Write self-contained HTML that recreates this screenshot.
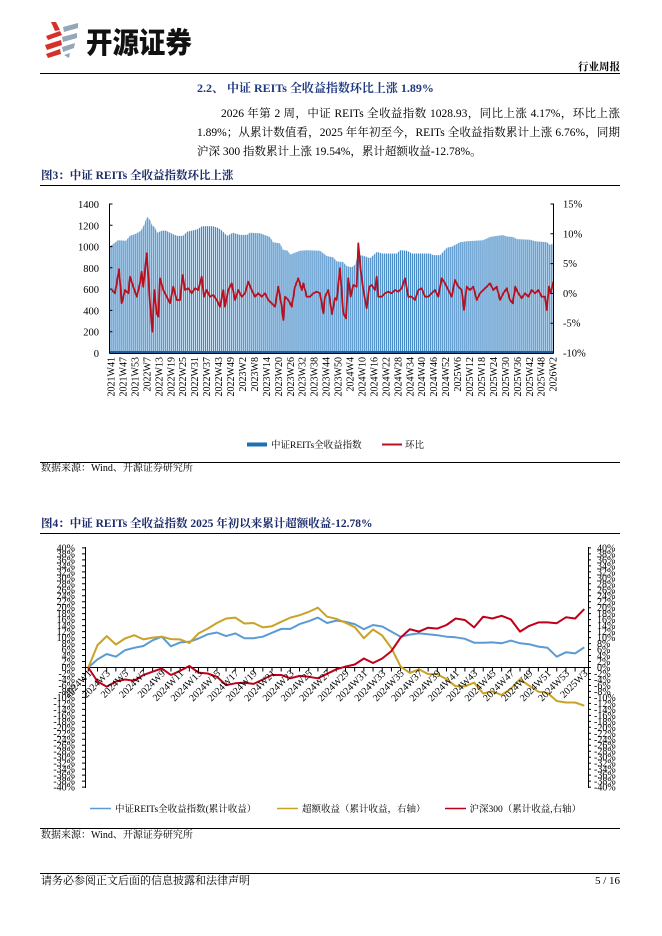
<!DOCTYPE html>
<html><head><meta charset="utf-8">
<style>
html,body{margin:0;padding:0;background:#fff;}
body{width:662px;height:936px;position:relative;overflow:hidden;font-family:"Liberation Serif","Noto Serif CJK SC",serif;color:#000;}
.a{position:absolute;white-space:nowrap;}
.rule{position:absolute;left:40px;width:580px;background:#000;}
.p{position:absolute;font-size:11.5px;line-height:14px;white-space:nowrap;text-align:justify;text-align-last:justify;}
.ft{font-family:"Liberation Serif","Noto Serif CJK SC",serif;font-weight:700;color:#1b2a6b;}
</style></head><body>

<!-- logo -->
<svg class="a" style="left:0;top:0" width="110" height="70">
<g fill="#d6302a">
<polygon points="51,22 56,22 60,30 55,31"/>
<polygon points="46,36 60,31 62,35 48,40"/>
<polygon points="45,45 61,40 62,45 47,50"/>
<polygon points="46,54 60,49 61,54 48,58"/>
</g>
<g fill="#93a7b8">
<polygon points="63,27 78,23 78,28 64,32"/>
<polygon points="62,37 77,33 77,38 63,42"/>
<polygon points="62,47 75,43 74,48 63,52"/>
<polygon points="64,55 70,53 69,58"/>
</g>
</svg>
<div class="a" style="left:86px;top:25px;font-family:'Noto Sans CJK SC',sans-serif;font-weight:900;font-size:27px;line-height:30px;transform:scale(0.98,1.08);transform-origin:0 0;color:#111;">开源证券</div>
<div class="a" style="right:42px;top:61px;font-size:10.5px;line-height:12px;font-weight:700;font-family:'Noto Serif CJK SC',serif;">行业周报</div>
<div class="rule" style="top:73px;height:1.3px;"></div>

<div class="a ft" style="left:197px;top:81px;font-size:12px;line-height:14px;color:#1f3a80;">2.2、 中证 REITs 全收益指数环比上涨 1.89%</div>

<div class="p" style="left:221px;top:107px;width:399px;">2026 年第 2 周，中证 REITs 全收益指数 1028.93，同比上涨 4.17%，环比上涨</div>
<div class="p" style="left:197px;top:126px;width:423px;">1.89%；从累计数值看，2025 年年初至今，REITs 全收益指数累计上涨 6.76%，同期</div>
<div class="a" style="left:197px;top:145px;font-size:11.5px;line-height:14px;">沪深 300 指数累计上涨 19.54%，累计超额收益-12.78%。</div>

<div class="a ft" style="left:41px;top:169px;font-size:11.5px;line-height:14px;">图3：中证 REITs 全收益指数环比上涨</div>
<div class="rule" style="top:184.5px;height:1.3px;"></div>

<div class="rule" style="top:462px;height:1px;"></div>
<div class="a" style="left:41px;top:463px;font-size:10px;line-height:12px;">数据来源：Wind、开源证券研究所</div>

<div class="a ft" style="left:41px;top:517px;font-size:11.5px;line-height:14px;">图4：中证 REITs 全收益指数 2025 年初以来累计超额收益-12.78%</div>
<div class="rule" style="top:532.5px;height:1.3px;"></div>

<div class="rule" style="top:828px;height:1px;"></div>
<div class="a" style="left:41px;top:830px;font-size:10px;line-height:12px;">数据来源：Wind、开源证券研究所</div>

<div class="rule" style="top:873px;height:1px;"></div>
<div class="a" style="left:41px;top:875px;font-size:11px;line-height:13px;">请务必参阅正文后面的信息披露和法律声明</div>
<div class="a" style="right:42px;top:875px;font-size:11px;line-height:13px;">5 / 16</div>

<svg class="a" style="left:0;top:0" width="662" height="936" font-family="Liberation Serif, Noto Serif CJK SC, serif">
<defs>
<pattern id="bars" x="109.5" y="0" width="1.99" height="400" patternUnits="userSpaceOnUse">
<rect x="0" y="0" width="0.85" height="400" fill="#2a78bc"/>
</pattern>
</defs>

<!-- ============ CHART 1 ============ -->
<g>
<polygon fill="#cfe3f4" points="109.5,353 109.5,246.6 114,243.4 118,240.2 126,240.7 130,235.9 136,233.8 141,230.6 144,225.3 147,216.8 150,220 152,225.3 155,227.4 157,232.7 162,230.6 166,230.6 170,232.7 177,235.9 183,235.9 187,231.7 197,229.5 202,226.3 213,226.3 218,227.9 222,230.6 227,235.9 233,232.7 240,234.9 247,234.9 250,232.7 260,233.3 267,235.9 270,237 273,242.3 280,243.4 283,249.8 288,250.8 290,254.6 300,250.8 307,250.3 320,250.8 327,256.1 333,257.2 337,261.5 343,262 347,266.3 352,267.3 355,264.7 358,255.1 363,255.6 370,258.3 377,251.9 382,253.5 397,253.5 400,250.3 407,250.8 412,253.5 430,253.5 433,255.1 440,255.3 447,247.6 452,246.6 460,242.3 467,241.3 483,240.2 490,237 497,235.9 503,235.1 507,236.5 513,237 517,239.1 530,239.7 535,241.3 547,242.3 550,245 553,243.5 553,353"/>
<polygon fill="url(#bars)" points="109.5,353 109.5,246.6 114,243.4 118,240.2 126,240.7 130,235.9 136,233.8 141,230.6 144,225.3 147,216.8 150,220 152,225.3 155,227.4 157,232.7 162,230.6 166,230.6 170,232.7 177,235.9 183,235.9 187,231.7 197,229.5 202,226.3 213,226.3 218,227.9 222,230.6 227,235.9 233,232.7 240,234.9 247,234.9 250,232.7 260,233.3 267,235.9 270,237 273,242.3 280,243.4 283,249.8 288,250.8 290,254.6 300,250.8 307,250.3 320,250.8 327,256.1 333,257.2 337,261.5 343,262 347,266.3 352,267.3 355,264.7 358,255.1 363,255.6 370,258.3 377,251.9 382,253.5 397,253.5 400,250.3 407,250.8 412,253.5 430,253.5 433,255.1 440,255.3 447,247.6 452,246.6 460,242.3 467,241.3 483,240.2 490,237 497,235.9 503,235.1 507,236.5 513,237 517,239.1 530,239.7 535,241.3 547,242.3 550,245 553,243.5 553,353"/>
<rect x="109.5" y="351" width="444" height="2" fill="#1c5f9e"/>
<polyline fill="none" stroke="#b8101e" stroke-width="1.8" stroke-linejoin="round" points="111.7,290 115,293.3 119,269.3 121.7,303.3 125,290 128.3,293.3 130,276.7 133.3,286.7 136.7,296.7 140,283.3 141.7,271.7 143.3,286.7 146.7,253.3 148.3,276.7 150,303.3 152.3,331.7 154.3,290 156.7,313.3 158.3,316.7 160,278.3 163.3,290 166.7,296.7 170,303.3 173.3,286.7 176.7,300 180,300 182.7,275 185,290 188.3,288.3 191.7,293.3 195,288.3 198.3,290 201.7,276.7 204,296.7 206.7,290 210,296.7 213.3,295 216.7,300 220,306.7 223.3,290 225,306.7 228.3,290 231.7,283.3 235,300 238.3,290 241.7,296.7 245,293.3 248.3,281.7 251.7,290 255,296.7 258.3,293.3 261.7,296.7 265,293.3 268.3,300 271.7,303.3 275,306.7 278.3,286.7 281.7,306.7 283.3,320 285,296.7 288.3,300 291.7,306.7 295,286.7 298.3,278.3 301.7,290 303.3,283.3 306.7,296.7 310,296.7 313.3,293.3 316.7,291.7 320,293.3 323.3,313.3 325,296.7 328.3,290 332,314 335,298 336.7,300 340,268.3 343.3,313.3 346,318.3 348.3,278.3 350.7,296.7 353.3,285 356.7,286.7 358.3,243.3 360.7,270 363.3,290 366.7,308.3 369.3,286.7 371.7,285 375,290 376.7,276.7 378.3,296.7 381.7,296.7 385,293.3 388.3,291.7 391.7,293.3 395,290 398.3,291.7 401.7,288.3 405,278.3 408.3,296.7 411.7,296.7 415,300 418.3,290 421.7,288.3 425,296.7 428.3,296.7 431.7,293.3 435,290 438.3,296.7 441.7,278.3 445,283.3 448.3,290 451.7,296.7 455,280 458.3,286.7 461.7,290 464,310 466.7,286.7 470,290 473.3,286.7 476.7,300 480,293.3 483.3,290 486.7,286.7 490,283.3 493.3,290 496.7,286.7 500,300 503.3,293.3 506.7,288.3 510,300 512.7,303.3 515.3,286.7 518.3,293.3 521.7,298.3 525,293.3 528.3,296.7 531.7,290 535,293.3 538.3,290 541.7,296.7 545,296.7 546.7,310 549,286.7 550.7,293.3 553.3,281.7"/>
<!-- axes -->
<g stroke="#000" stroke-width="1" fill="none">
<line x1="109.5" y1="203.5" x2="109.5" y2="353.5"/>
<line x1="553.5" y1="203.5" x2="553.5" y2="353.5"/>
<line x1="109.5" y1="353.5" x2="553.5" y2="353.5"/>
<path d="M109.5 204h3M109.5 225.3h3M109.5 246.6h3M109.5 267.8h3M109.5 289.1h3M109.5 310.4h3M109.5 331.7h3"/>
<path d="M553.5 204h-3M553.5 233.8h-3M553.5 263.6h-3M553.5 293.4h-3M553.5 323.2h-3"/>
</g>
<g font-size="10.5" fill="#000">
<text x="99" y="357" text-anchor="end"><tspan x="99">0</tspan><tspan x="99" dy="-21.29">200</tspan><tspan x="99" dy="-21.29">400</tspan><tspan x="99" dy="-21.29">600</tspan><tspan x="99" dy="-21.29">800</tspan><tspan x="99" dy="-21.29">1000</tspan><tspan x="99" dy="-21.29">1200</tspan><tspan x="99" dy="-21.29">1400</tspan></text>
<text x="563" y="207.5"><tspan x="563">15%</tspan><tspan x="563" dy="29.8">10%</tspan><tspan x="563" dy="29.8">5%</tspan><tspan x="563" dy="29.8">0%</tspan><tspan x="563" dy="29.8">-5%</tspan><tspan x="563" dy="29.8">-10%</tspan></text>
</g>
<g font-size="10" fill="#000" text-anchor="end">
<text transform="translate(114.5,357) rotate(-90)">2021W41</text>
<text transform="translate(126.5,357) rotate(-90)">2021W47</text>
<text transform="translate(138.4,357) rotate(-90)">2021W53</text>
<text transform="translate(150.4,357) rotate(-90)">2022W7</text>
<text transform="translate(162.3,357) rotate(-90)">2022W13</text>
<text transform="translate(174.3,357) rotate(-90)">2022W19</text>
<text transform="translate(186.2,357) rotate(-90)">2022W25</text>
<text transform="translate(198.2,357) rotate(-90)">2022W31</text>
<text transform="translate(210.1,357) rotate(-90)">2022W37</text>
<text transform="translate(222.1,357) rotate(-90)">2022W43</text>
<text transform="translate(234,357) rotate(-90)">2022W49</text>
<text transform="translate(246,357) rotate(-90)">2023W2</text>
<text transform="translate(257.9,357) rotate(-90)">2023W8</text>
<text transform="translate(269.9,357) rotate(-90)">2023W14</text>
<text transform="translate(281.8,357) rotate(-90)">2023W20</text>
<text transform="translate(293.8,357) rotate(-90)">2023W26</text>
<text transform="translate(305.7,357) rotate(-90)">2023W32</text>
<text transform="translate(317.7,357) rotate(-90)">2023W38</text>
<text transform="translate(329.6,357) rotate(-90)">2023W44</text>
<text transform="translate(341.6,357) rotate(-90)">2023W50</text>
<text transform="translate(353.5,357) rotate(-90)">2024W4</text>
<text transform="translate(365.5,357) rotate(-90)">2024W10</text>
<text transform="translate(377.4,357) rotate(-90)">2024W16</text>
<text transform="translate(389.4,357) rotate(-90)">2024W22</text>
<text transform="translate(401.3,357) rotate(-90)">2024W28</text>
<text transform="translate(413.3,357) rotate(-90)">2024W34</text>
<text transform="translate(425.2,357) rotate(-90)">2024W40</text>
<text transform="translate(437.2,357) rotate(-90)">2024W46</text>
<text transform="translate(449.1,357) rotate(-90)">2024W52</text>
<text transform="translate(461.1,357) rotate(-90)">2025W6</text>
<text transform="translate(473,357) rotate(-90)">2025W12</text>
<text transform="translate(485,357) rotate(-90)">2025W18</text>
<text transform="translate(496.9,357) rotate(-90)">2025W24</text>
<text transform="translate(508.9,357) rotate(-90)">2025W30</text>
<text transform="translate(520.8,357) rotate(-90)">2025W36</text>
<text transform="translate(532.8,357) rotate(-90)">2025W42</text>
<text transform="translate(544.7,357) rotate(-90)">2025W48</text>
<text transform="translate(556.7,357) rotate(-90)">2026W2</text>
</g>
<!-- legend 1 -->
<rect x="247" y="442.5" width="20" height="4" fill="#1f6fb5"/>
<text x="271" y="448" font-size="9.5">中证REITs全收益指数</text>
<line x1="382" y1="444.5" x2="402" y2="444.5" stroke="#b8101e" stroke-width="2"/>
<text x="405" y="448" font-size="9.5">环比</text>
</g>

<!-- ============ CHART 2 ============ -->
<g>
<g stroke="#000" fill="none">
<line x1="85.5" y1="547" x2="85.5" y2="788" stroke-width="1"/>
<line x1="588.5" y1="547" x2="588.5" y2="788" stroke-width="1"/>
<line x1="83.5" y1="547.4" x2="83.5" y2="788.5" stroke-width="3" stroke-dasharray="1 4.98"/>
<line x1="589.5" y1="547.4" x2="589.5" y2="788.5" stroke-width="3" stroke-dasharray="1 4.98"/>
<line x1="85.5" y1="667.5" x2="588.5" y2="667.5" stroke-width="1"/>
<line x1="87.8" y1="669.5" x2="589" y2="669.5" stroke-width="4" stroke-dasharray="1 8.185"/>
</g>
<polyline fill="none" stroke="#5b9bd5" stroke-width="2" stroke-linejoin="round" points="88.3,667.5 97.5,659.4 106.7,654 115.9,656.7 125,650.2 134.2,647.8 143.4,646 152.6,640.3 161.8,636.7 170.9,646.3 180.2,642.4 189.3,641.8 198.5,638.5 207.7,634.3 216.9,632.5 226.1,636.1 235.3,633.4 244.4,638.2 253.6,638.2 262.8,636.7 272,632.8 281.2,628.9 290.4,628.9 299.6,624.1 308.7,621.2 317.9,617.6 327.1,623 336.3,620.6 345.5,621.8 354.7,624.1 363.9,629.2 373,625 382.2,626.5 391.4,631.6 400.6,636.7 409.8,634.6 419,633.4 428.1,634.3 437.3,635.2 446.5,636.7 455.7,637.3 464.9,638.8 474.1,642.7 483.2,642.7 492.4,642.4 501.6,643.3 510.8,640.6 520,643.3 529.2,644.2 538.4,646.6 547.5,647.8 556.7,656.7 565.9,652.3 575.1,653.4 584.3,647.3"/>
<polyline fill="none" stroke="#c9a227" stroke-width="2" stroke-linejoin="round" points="88.3,667.5 97.5,645.1 106.7,636.1 115.9,644.5 125,638.5 134.2,635.2 143.4,639.4 152.6,637.6 161.8,636.7 170.9,639.1 180.2,639.4 189.3,643 198.5,633.4 207.7,628.6 216.9,623 226.1,618.5 235.3,617.6 244.4,623.5 253.6,623 262.8,627.4 272,626.2 281.2,621.8 290.4,617.6 299.6,615.2 308.7,611.9 317.9,607.7 327.1,616.7 336.3,618.8 345.5,622.7 354.7,627.1 363.9,638.2 373,629.5 382.2,635.5 391.4,648.1 400.6,666.6 409.8,672.9 419,669.3 428.1,674.1 437.3,674.1 446.5,679.2 455.7,686.3 464.9,686.3 474.1,682.7 483.2,693.5 492.4,691.4 501.6,695 510.8,688.7 520,679.2 529.2,685.7 538.4,691.7 547.5,692.9 556.7,701 565.9,702.5 575.1,702.5 584.3,705.7"/>
<polyline fill="none" stroke="#c0001a" stroke-width="2" stroke-linejoin="round" points="88.3,667.5 97.5,681.5 106.7,686.6 115.9,681.5 125,679.5 134.2,680.7 143.4,675 152.6,671.7 161.8,668.4 170.9,675 180.2,670.8 189.3,666 198.5,672.6 207.7,673.5 216.9,676.8 226.1,685.1 235.3,683.3 244.4,682.7 253.6,683.9 262.8,679.5 272,675 281.2,675 290.4,678.3 299.6,675.9 308.7,676.8 317.9,678.3 327.1,673.8 336.3,669.3 345.5,666.6 354.7,664.5 363.9,658.5 373,663 382.2,658.5 391.4,651.1 400.6,637.6 409.8,629.2 419,631.6 428.1,627.7 437.3,628.6 446.5,625 455.7,618.5 464.9,620 474.1,627.4 483.2,616.7 492.4,618.5 501.6,615.8 510.8,619.4 520,631.6 529.2,625.9 538.4,622.4 547.5,622.4 556.7,623.2 565.9,617.3 575.1,618.5 584.3,609.1"/>
<g font-size="10" fill="#000">
<text x="75" y="551.4" text-anchor="end"><tspan x="75">40%</tspan><tspan x="75" dy="5.98">38%</tspan><tspan x="75" dy="5.98">36%</tspan><tspan x="75" dy="5.98">34%</tspan><tspan x="75" dy="5.98">32%</tspan><tspan x="75" dy="5.98">30%</tspan><tspan x="75" dy="5.98">28%</tspan><tspan x="75" dy="5.98">26%</tspan><tspan x="75" dy="5.98">24%</tspan><tspan x="75" dy="5.98">22%</tspan><tspan x="75" dy="5.98">20%</tspan><tspan x="75" dy="5.98">18%</tspan><tspan x="75" dy="5.98">16%</tspan><tspan x="75" dy="5.98">14%</tspan><tspan x="75" dy="5.98">12%</tspan><tspan x="75" dy="5.98">10%</tspan><tspan x="75" dy="5.98">8%</tspan><tspan x="75" dy="5.98">6%</tspan><tspan x="75" dy="5.98">4%</tspan><tspan x="75" dy="5.98">2%</tspan><tspan x="75" dy="5.98">0%</tspan><tspan x="75" dy="5.98">-2%</tspan><tspan x="75" dy="5.98">-4%</tspan><tspan x="75" dy="5.98">-6%</tspan><tspan x="75" dy="5.98">-8%</tspan><tspan x="75" dy="5.98">-10%</tspan><tspan x="75" dy="5.98">-12%</tspan><tspan x="75" dy="5.98">-14%</tspan><tspan x="75" dy="5.98">-16%</tspan><tspan x="75" dy="5.98">-18%</tspan><tspan x="75" dy="5.98">-20%</tspan><tspan x="75" dy="5.98">-22%</tspan><tspan x="75" dy="5.98">-24%</tspan><tspan x="75" dy="5.98">-26%</tspan><tspan x="75" dy="5.98">-28%</tspan><tspan x="75" dy="5.98">-30%</tspan><tspan x="75" dy="5.98">-32%</tspan><tspan x="75" dy="5.98">-34%</tspan><tspan x="75" dy="5.98">-36%</tspan><tspan x="75" dy="5.98">-38%</tspan><tspan x="75" dy="5.98">-40%</tspan></text>
<text x="596" y="551.4"><tspan x="597">40%</tspan><tspan x="597" dy="5.98">38%</tspan><tspan x="597" dy="5.98">36%</tspan><tspan x="597" dy="5.98">34%</tspan><tspan x="597" dy="5.98">32%</tspan><tspan x="597" dy="5.98">30%</tspan><tspan x="597" dy="5.98">28%</tspan><tspan x="597" dy="5.98">26%</tspan><tspan x="597" dy="5.98">24%</tspan><tspan x="597" dy="5.98">22%</tspan><tspan x="597" dy="5.98">20%</tspan><tspan x="597" dy="5.98">18%</tspan><tspan x="597" dy="5.98">16%</tspan><tspan x="597" dy="5.98">14%</tspan><tspan x="597" dy="5.98">12%</tspan><tspan x="597" dy="5.98">10%</tspan><tspan x="597" dy="5.98">8%</tspan><tspan x="597" dy="5.98">6%</tspan><tspan x="597" dy="5.98">4%</tspan><tspan x="597" dy="5.98">2%</tspan><tspan x="597" dy="5.98">0%</tspan><tspan x="594" dy="5.98">-2%</tspan><tspan x="594" dy="5.98">-4%</tspan><tspan x="594" dy="5.98">-6%</tspan><tspan x="594" dy="5.98">-8%</tspan><tspan x="594" dy="5.98">-10%</tspan><tspan x="594" dy="5.98">-12%</tspan><tspan x="594" dy="5.98">-14%</tspan><tspan x="594" dy="5.98">-16%</tspan><tspan x="594" dy="5.98">-18%</tspan><tspan x="594" dy="5.98">-20%</tspan><tspan x="594" dy="5.98">-22%</tspan><tspan x="594" dy="5.98">-24%</tspan><tspan x="594" dy="5.98">-26%</tspan><tspan x="594" dy="5.98">-28%</tspan><tspan x="594" dy="5.98">-30%</tspan><tspan x="594" dy="5.98">-32%</tspan><tspan x="594" dy="5.98">-34%</tspan><tspan x="594" dy="5.98">-36%</tspan><tspan x="594" dy="5.98">-38%</tspan><tspan x="594" dy="5.98">-40%</tspan></text>
</g>
<g font-size="10" fill="#000" text-anchor="end">
<text transform="translate(92.3,674) rotate(-45)">2024W1</text>
<text transform="translate(110.7,674) rotate(-45)">2024W3</text>
<text transform="translate(129,674) rotate(-45)">2024W5</text>
<text transform="translate(147.4,674) rotate(-45)">2024W7</text>
<text transform="translate(165.8,674) rotate(-45)">2024W9</text>
<text transform="translate(184.2,674) rotate(-45)">2024W11</text>
<text transform="translate(202.5,674) rotate(-45)">2024W13</text>
<text transform="translate(220.9,674) rotate(-45)">2024W15</text>
<text transform="translate(239.3,674) rotate(-45)">2024W17</text>
<text transform="translate(257.6,674) rotate(-45)">2024W19</text>
<text transform="translate(276,674) rotate(-45)">2024W21</text>
<text transform="translate(294.4,674) rotate(-45)">2024W23</text>
<text transform="translate(312.7,674) rotate(-45)">2024W25</text>
<text transform="translate(331.1,674) rotate(-45)">2024W27</text>
<text transform="translate(349.5,674) rotate(-45)">2024W29</text>
<text transform="translate(367.9,674) rotate(-45)">2024W31</text>
<text transform="translate(386.2,674) rotate(-45)">2024W33</text>
<text transform="translate(404.6,674) rotate(-45)">2024W35</text>
<text transform="translate(423,674) rotate(-45)">2024W37</text>
<text transform="translate(441.3,674) rotate(-45)">2024W39</text>
<text transform="translate(459.7,674) rotate(-45)">2024W41</text>
<text transform="translate(478.1,674) rotate(-45)">2024W43</text>
<text transform="translate(496.4,674) rotate(-45)">2024W45</text>
<text transform="translate(514.8,674) rotate(-45)">2024W47</text>
<text transform="translate(533.2,674) rotate(-45)">2024W49</text>
<text transform="translate(551.6,674) rotate(-45)">2024W51</text>
<text transform="translate(569.9,674) rotate(-45)">2024W53</text>
<text transform="translate(588.3,674) rotate(-45)">2025W3</text>
</g>
<!-- legend 2 -->
<line x1="90" y1="808.5" x2="111" y2="808.5" stroke="#5b9bd5" stroke-width="1.5"/>
<text x="115" y="812" font-size="9.5">中证REITs全收益指数(累计收益）</text>
<line x1="277" y1="808.5" x2="298" y2="808.5" stroke="#c9a227" stroke-width="1.5"/>
<text x="302" y="812" font-size="9.5">超额收益（累计收益，右轴）</text>
<line x1="445" y1="808.5" x2="466" y2="808.5" stroke="#c0001a" stroke-width="1.5"/>
<text x="469.5" y="812" font-size="9.5">沪深300（累计收益,右轴）</text>
</g>
</svg>
</body></html>
